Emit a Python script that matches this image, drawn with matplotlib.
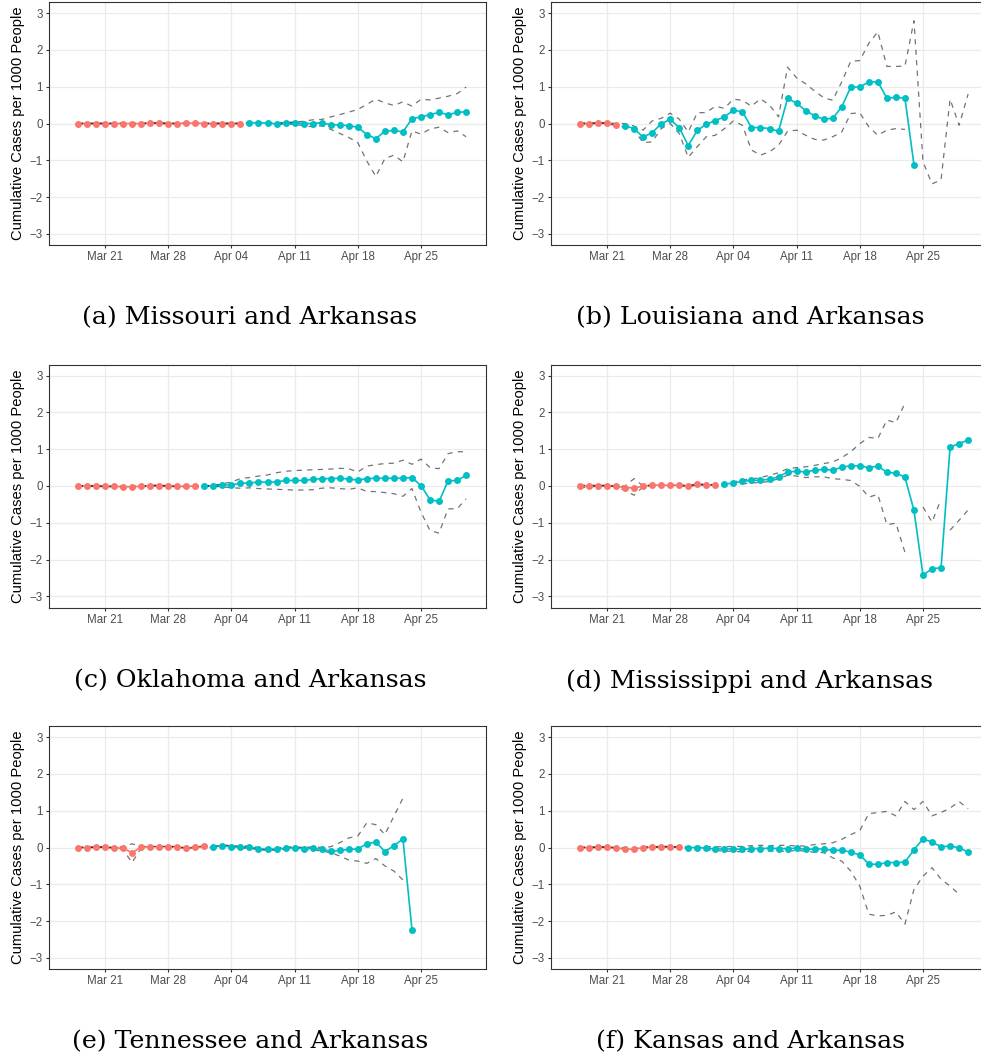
import numpy as np, matplotlib; matplotlib.use("Agg")
import matplotlib.pyplot as plt
import matplotlib.dates as mdates
from datetime import datetime, timedelta

nan = float("nan")
start = datetime(2020, 3, 18)          # first day in every series, last is Apr 30
days = [start + timedelta(i) for i in range(44)]

# ---- Missouri ----
mo_pre = [0, 0, 0, 0, 0, 0, 0, 0, 0.01, 0.01, 0, 0, 0.01, 0.01, 0, 0, 0, 0, 0]
mo_post = [0.02, 0.02, 0.01, -0.01, 0.01, 0.02, 0, 0, 0.02, -0.03, -0.04, -0.06, -0.1,
           -0.3, -0.41, -0.21, -0.19, -0.23, 0.13, 0.18, 0.24, 0.3, 0.24, 0.3, 0.32]
mo_upper = [0.01, 0.01, 0.01, 0.01, 0.01, 0.01, 0.01,
            0.01, 0.02, 0.02, 0.01, 0.01, 0.02, 0.02,
            0.01, 0.01, 0.01, 0.01, 0.01, 0.03, 0.03,
            0.03, 0.02, 0.03, 0.04, 0.06, 0.1, 0.11,
            0.18, 0.24, 0.31, 0.38, 0.52, 0.66, 0.56,
            0.49, 0.59, 0.47, 0.66, 0.64, 0.69, 0.74,
            0.81, 0.99]
mo_lower = [-0.01, -0.01, -0.01, -0.01, -0.01, -0.01, -0.01,
            -0.01, 0.0, 0.0, -0.01, -0.01, 0.0, 0.0,
            -0.01, -0.01, -0.01, -0.01, -0.01, 0.01, 0.01,
            0.0, -0.03, -0.01, -0.02, -0.06, -0.09, -0.06,
            -0.16, -0.27, -0.38, -0.52, -1.02, -1.44, -0.95,
            -0.86, -1.04, -0.2, -0.29, -0.15, -0.1, -0.25,
            -0.2, -0.36]

# ---- Louisiana ----
la_pre = [0, 0, 0.01, 0.01, -0.04]
la_post = [-0.06, -0.14, -0.37, -0.25, -0.01, 0.11, -0.11, -0.6, -0.19,
           -0.02, 0.08, 0.18, 0.36, 0.32, -0.11, -0.11, -0.14, -0.21, 0.68, 0.55,
           0.35, 0.21, 0.12, 0.14, 0.45, 0.99, 0.99, 1.13, 1.13, 0.69, 0.71, 0.69, -1.12]
la_upper = [0.02, 0.02, 0.02, 0.02, 0.0, 0.0, -0.07,
            -0.18, 0.07, 0.14, 0.28, 0.12, -0.23, 0.29,
            0.3, 0.47, 0.41, 0.66, 0.63, 0.47, 0.67,
            0.5, 0.18, 1.53, 1.24, 1.08, 0.88, 0.7,
            0.63, 1.13, 1.69, 1.71, 2.18, 2.49, 1.55,
            1.55, 1.56, 2.79, -1.04, -1.64, -1.53, 0.66,
            -0.05, 0.8]
la_lower = [-0.02, -0.02, 0.0, 0.0, -0.06, -0.1, -0.18,
            -0.52, -0.5, -0.14, 0.0, -0.27, -0.92, -0.63,
            -0.36, -0.32, -0.14, 0.07, -0.05, -0.72, -0.86,
            -0.77, -0.59, -0.21, -0.18, -0.32, -0.43, -0.45,
            -0.36, -0.23, 0.27, 0.29, -0.09, -0.32, -0.18,
            -0.14, -0.16, nan, nan, nan, nan, nan,
            nan, nan]

# ---- Oklahoma ----
ok_pre = [0, 0, 0, -0.01, -0.01, -0.02, -0.02, -0.01, 0.01, 0.01, 0, -0.01, -0.01, 0]
ok_post = [0, 0, 0.03, 0.03, 0.07, 0.08, 0.11, 0.1, 0.11, 0.15, 0.15, 0.15, 0.18, 0.2, 0.2,
           0.21, 0.19, 0.16, 0.2, 0.21, 0.21, 0.21, 0.21, 0.23, 0.01, -0.37, -0.42, 0.14, 0.15, 0.29]
ok_upper = [0.01, 0.01, 0.01, 0.0, 0.0, -0.01, 0.0,
            0.0, 0.02, 0.02, 0.01, 0.0, 0.0, 0.01,
            0.01, 0.02, 0.06, 0.11, 0.2, 0.23, 0.27,
            0.3, 0.36, 0.4, 0.42, 0.43, 0.44, 0.45,
            0.46, 0.48, 0.47, 0.38, 0.54, 0.58, 0.61,
            0.62, 0.7, 0.59, 0.73, 0.5, 0.47, 0.88,
            0.93, 0.93]
ok_lower = [-0.01, -0.01, -0.01, -0.02, -0.02, -0.03, -0.03,
            -0.02, 0.0, 0.0, -0.01, -0.02, -0.02, -0.01,
            -0.01, -0.01, -0.02, -0.05, -0.06, -0.05, -0.07,
            -0.08, -0.09, -0.1, -0.11, -0.11, -0.1, -0.06,
            -0.05, -0.07, -0.09, -0.05, -0.15, -0.15, -0.18,
            -0.21, -0.28, -0.07, -0.71, -1.21, -1.28, -0.62,
            -0.62, -0.35]

# ---- Mississippi ----
ms_pre = [0, 0, 0.01, 0, 0, -0.05, -0.05, -0.01, 0.03, 0.02, 0.02, 0.02, -0.01, 0.05, 0.03, 0.03]
ms_post = [0.05, 0.08, 0.13, 0.15, 0.16, 0.18, 0.25, 0.38, 0.4, 0.38, 0.43, 0.45, 0.43, 0.51,
           0.55, 0.55, 0.5, 0.54, 0.37, 0.35, 0.24, -0.66, -2.42, -2.25, -2.22, 1.06, 1.15, 1.25]
ms_upper = [0.02, 0.02, 0.02, 0.02, 0.0, 0.0, 0.2,
            0.0, 0.02, 0.04, 0.03, 0.03, 0.02, 0.05,
            0.04, 0.04, 0.05, 0.11, 0.17, 0.19, 0.23,
            0.29, 0.36, 0.47, 0.5, 0.52, 0.56, 0.61,
            0.65, 0.77, 0.93, 1.15, 1.32, 1.29, 1.79,
            1.72, 2.25, nan, -0.57, -0.98, -0.36, nan,
            nan, nan]
ms_lower = [-0.05, -0.03, 0.0, 0.0, -0.02, -0.12, -0.25,
            -0.02, 0.02, 0.01, 0.01, 0.01, -0.02, 0.03,
            0.02, 0.02, 0.03, 0.04, 0.06, 0.08, 0.1,
            0.12, 0.2, 0.29, 0.27, 0.23, 0.25, 0.25,
            0.2, 0.18, 0.15, -0.01, -0.3, -0.23, -1.05,
            -1.01, -1.8, nan, nan, nan, nan, -1.2,
            -0.93, -0.65]

# ---- Tennessee ----
tn_pre = [0, 0, 0.01, 0.01, -0.01, -0.02, -0.14, 0.01, 0.02, 0.02, 0.02, 0.02, -0.02, 0.01, 0.04]
tn_post = [0.01, 0.05, 0.02, 0.01, 0.01, -0.03, -0.05, -0.04, -0.02, -0.01, -0.03, -0.02,
           -0.05, -0.1, -0.08, -0.05, -0.04, 0.1, 0.15, -0.11, 0.05, 0.23, -2.23]
tn_upper = [0.01, 0.01, 0.02, 0.02, 0.0, 0.02, 0.1,
            0.03, 0.03, 0.03, 0.03, 0.03, -0.01, 0.02,
            0.05, 0.03, 0.07, 0.05, 0.04, 0.04, 0.0,
            -0.02, -0.01, 0.01, 0.02, 0.0, 0.02, 0.0,
            0.02, 0.13, 0.26, 0.31, 0.67, 0.62, 0.35,
            0.85, 1.34, nan, nan, nan, nan, nan,
            nan, nan]
tn_lower = [-0.01, -0.01, 0.0, 0.0, -0.02, -0.06, -0.41,
            -0.01, 0.01, 0.01, 0.01, 0.01, -0.03, 0.0,
            0.03, -0.01, 0.03, -0.01, -0.02, -0.02, -0.06,
            -0.08, -0.07, -0.05, -0.04, -0.06, -0.06, -0.1,
            -0.14, -0.23, -0.34, -0.37, -0.43, -0.3, -0.5,
            -0.64, -0.88, nan, nan, nan, nan, nan,
            nan, nan]

# ---- Kansas ----
ks_pre = [0, 0, 0.01, 0.01, -0.01, -0.04, -0.05, 0, 0.01, 0.02, 0.02, 0.01]
ks_post = [0, 0, -0.02, -0.04, -0.04, -0.04, -0.05, -0.03, -0.03, -0.02, -0.03, -0.03,
           -0.02, -0.05, -0.04, -0.04, -0.08, -0.07, -0.13, -0.2, -0.45, -0.46, -0.41, -0.41,
           -0.4, -0.06, 0.23, 0.15, 0.02, 0.04, -0.01, -0.12]
ks_upper = [0.01, 0.01, 0.02, 0.02, 0.0, 0.0, -0.02,
            0.02, 0.02, 0.03, 0.03, 0.02, 0.02, 0.03,
            0.02, 0.02, 0.02, 0.03, 0.03, 0.05, 0.06,
            0.05, 0.06, 0.06, 0.04, 0.04, 0.08, 0.1,
            0.13, 0.22, 0.35, 0.46, 0.92, 0.95, 0.98,
            0.86, 1.25, 1.03, 1.25, 0.86, 0.95, 1.07,
            1.25, 1.05]
ks_lower = [-0.01, -0.01, 0.0, 0.0, -0.02, -0.06, -0.07,
            -0.02, 0.0, 0.01, 0.01, 0.0, -0.02, -0.04,
            -0.06, -0.08, -0.1, -0.1, -0.12, -0.1, -0.1,
            -0.1, -0.1, -0.1, -0.08, -0.1, -0.13, -0.14,
            -0.28, -0.37, -0.64, -1.05, -1.81, -1.86, -1.84,
            -1.75, -2.08, -1.14, -0.78, -0.55, -0.86, -1.05,
            -1.27, nan]

captions = ["(a) Missouri and Arkansas", "(b) Louisiana and Arkansas",
            "(c) Oklahoma and Arkansas", "(d) Mississippi and Arkansas",
            "(e) Tennessee and Arkansas", "(f) Kansas and Arkansas"]
series = [(mo_pre, mo_post, mo_upper, mo_lower), (la_pre, la_post, la_upper, la_lower),
          (ok_pre, ok_post, ok_upper, ok_lower), (ms_pre, ms_post, ms_upper, ms_lower),
          (tn_pre, tn_post, tn_upper, tn_lower), (ks_pre, ks_post, ks_upper, ks_lower)]

RED, TEAL = "#F8766D", "#00BFC4"
W, H = 981, 1061
lefts = [49, 551]
tops = [2, 364.5, 726]
pw, ph = 437, 243
cap_y = [318, 681, 1042]
cap_x = [250, 750]

plt.rcParams["font.family"] = ["Liberation Sans", "DejaVu Sans"]
fig = plt.figure(figsize=(W / 100, H / 100), dpi=100)
x = mdates.date2num(days)
ref = mdates.date2num(datetime(2020, 3, 21))

for k, (pre, post, up, lo) in enumerate(series):
    r, c = divmod(k, 2)
    ax = fig.add_axes([lefts[c] / W, 1 - (tops[r] + ph) / H, pw / W, ph / H])
    n0 = len(pre)
    xp, xq = x[:n0], x[n0:n0 + len(post)]
    ax.plot(xp, pre, color=RED, lw=1.2, zorder=2)
    ax.plot(xq, post, color=TEAL, lw=1.2, zorder=2)
    for band in (up, lo):
        ax.plot(x, np.array(band, dtype=float), color="black", alpha=0.55, lw=0.9,
                ls=(0, (4.2, 4.2)), zorder=3)
    ax.plot(xp, pre, "o", color=RED, ms=5, mew=0, zorder=4)
    ax.plot(xq, post, "o", color=TEAL, ms=5, mew=0, zorder=4)

    ax.set_xlim(ref - 6.2, ref + 42.2)
    ax.set_ylim(-3.3, 3.3)
    ax.set_yticks(range(-3, 4))
    ax.set_xticks([ref + 7 * i for i in range(6)])
    ax.xaxis.set_major_formatter(mdates.DateFormatter("%b %d"))
    ax.grid(True, color="#EBEBEB", lw=0.9)
    ax.set_axisbelow(True)
    for s in ax.spines.values():
        s.set_color("#333333"); s.set_linewidth(0.8)
    ax.tick_params(colors="#333333", length=2.5, width=0.8, labelsize=8.3,
                   labelcolor="#4D4D4D", pad=2)
    ax.set_ylabel("Cumulative Cases per 1000 People", fontsize=10.6, labelpad=3)
    fig.text(cap_x[c] / W, 1 - cap_y[r] / H, captions[k], ha="center", va="center",
             family="DejaVu Serif", fontsize=18.2)

fig.savefig("out.png", dpi=100)
